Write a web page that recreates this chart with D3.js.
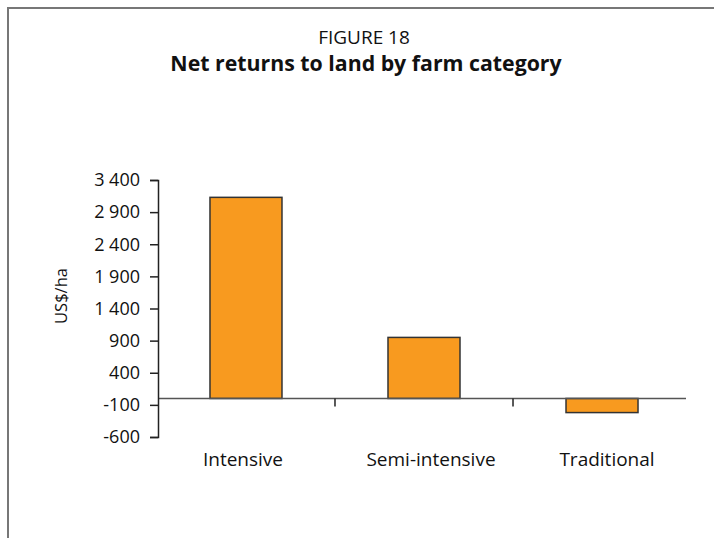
<!DOCTYPE html>
<html>
<head>
<meta charset="utf-8">
<script src="https://cdn.jsdelivr.net/npm/d3@7"></script>
<style>
  body { margin: 0; background: #fff; }
  svg text { font-family: "Open Sans", "Noto Sans", sans-serif; fill: #111; }
</style>
</head>
<body>
<div id="chart"></div>
<script>
const categories = ["Intensive", "Semi-intensive", "Traditional"];
const values = [3130, 950, -220];
const yTicks = [3400, 2900, 2400, 1900, 1400, 900, 400, -100, -600];
const yTickLabels = ["3 400", "2 900", "2 400", "1 900", "1 400", "900", "400", "-100", "-600"];

const width = 714;
const height = 538;

const svg = d3.select("#chart")
  .append("svg")
  .attr("width", width)
  .attr("height", height);

// frame (top + left only, the rest is cut off)
svg.append("path")
  .attr("d", "M8,538 L8,8 L714,8")
  .attr("fill", "none")
  .attr("stroke", "#777")
  .attr("stroke-width", 2);

svg.append("text")
  .attr("x", 364)
  .attr("y", 44)
  .attr("text-anchor", "middle")
  .style("font-size", "19px")
  .text("FIGURE 18");

svg.append("text")
  .attr("x", 366)
  .attr("y", 71)
  .attr("text-anchor", "middle")
  .style("font-size", "21.3px")
  .style("font-weight", "bold")
  .text("Net returns to land by farm category");

const yScale = d3.scaleLinear()
  .domain([-600, 3400])
  .range([437, 180]);

const xScale = d3.scaleBand()
  .domain(categories)
  .range([158, 690])
  .paddingInner(0.5955)
  .paddingOuter(0.292);

// bars
svg.selectAll("rect.bar")
  .data(values)
  .enter()
  .append("rect")
  .attr("class", "bar")
  .attr("x", (d, i) => xScale(categories[i]))
  .attr("y", d => yScale(Math.max(0, d)))
  .attr("width", xScale.bandwidth())
  .attr("height", d => Math.abs(yScale(d) - yScale(0)))
  .attr("fill", "#F89A1F")
  .attr("stroke", "#333")
  .attr("stroke-width", 1.5);

// zero line with category separators
svg.append("line")
  .attr("x1", 158)
  .attr("x2", 686)
  .attr("y1", yScale(0))
  .attr("y2", yScale(0))
  .attr("stroke", "#555")
  .attr("stroke-width", 1.5);

const gap = xScale.step() - xScale.bandwidth();
svg.selectAll("line.sep")
  .data(categories.slice(1))
  .enter()
  .append("line")
  .attr("class", "sep")
  .attr("x1", d => xScale(d) - gap / 2)
  .attr("x2", d => xScale(d) - gap / 2)
  .attr("y1", yScale(0))
  .attr("y2", yScale(0) + 8)
  .attr("stroke", "#222")
  .attr("stroke-width", 1.5);

// category labels (slightly off-centre in the original)
const labelShift = [-3, 7, 5];
svg.selectAll("text.cat")
  .data(categories)
  .enter()
  .append("text")
  .attr("class", "cat")
  .attr("x", (d, i) => xScale(d) + xScale.bandwidth() / 2 + labelShift[i])
  .attr("y", 466)
  .attr("text-anchor", "middle")
  .style("font-size", "19px")
  .text(d => d);

// y axis
const yAxis = d3.axisLeft(yScale)
  .tickValues(yTicks)
  .tickSize(8)
  .tickPadding(10)
  .tickFormat((d, i) => yTickLabels[i]);

svg.append("g")
  .attr("transform", "translate(158,0)")
  .call(yAxis)
  .call(g => g.select(".domain").attr("stroke", "#222").attr("stroke-width", 1.5))
  .call(g => g.selectAll(".tick line").attr("stroke", "#222").attr("stroke-width", 1.5))
  .call(g => g.selectAll(".tick text").style("font-size", "18px").attr("fill", "#111"));

svg.append("text")
  .attr("transform", "translate(67,296) rotate(-90)")
  .attr("text-anchor", "middle")
  .style("font-size", "16.5px")
  .text("US$/ha");
</script>
</body>
</html>
